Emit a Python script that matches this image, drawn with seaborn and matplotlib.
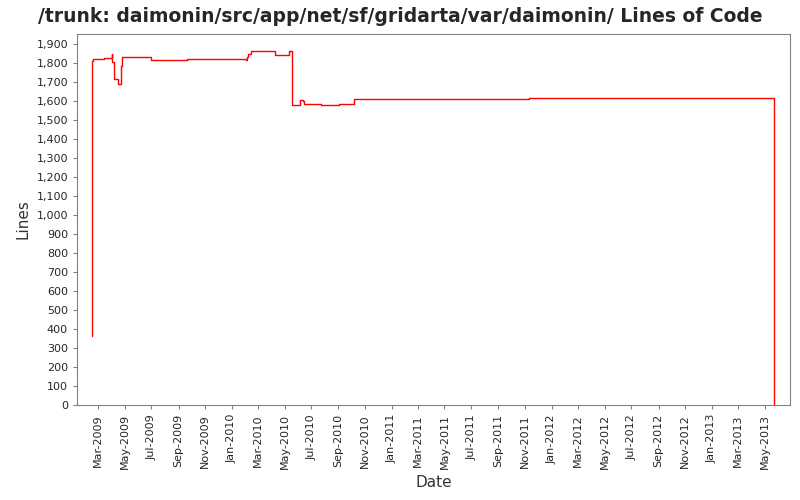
import matplotlib
matplotlib.use("Agg")
import matplotlib.pyplot as plt
import matplotlib.dates as mdates
import matplotlib.ticker as mticker
import seaborn as sns
import pandas as pd

dates = ["2009-02-15","2009-02-15","2009-02-18","2009-03-02","2009-03-15","2009-04-01","2009-04-02",
         "2009-04-07","2009-04-16","2009-04-22","2009-04-25","2009-07-01","2009-09-21",
         "2009-11-06","2010-02-03","2010-02-04","2010-02-07","2010-02-14","2010-04-10",
         "2010-05-10","2010-05-19","2010-06-06","2010-06-11","2010-06-15","2010-07-24",
         "2010-09-03","2010-10-07","2011-11-09","2013-05-22"]
lines = [365,1812,1819,1824,1828,1846,1804,1714,1690,1784,1830,1814,1824,1819,1816,1830,
         1846,1862,1840,1862,1577,1603,1598,1584,1577,1584,1609,1614,0]

df = pd.DataFrame({"Date": pd.to_datetime(dates), "Lines": lines})

sns.set_style("white")
plt.rcParams['font.family'] = ['DejaVu Sans']
fig = plt.figure(figsize=(8, 5), dpi=100)
ax = fig.add_axes([77/800, 1-405/500, (790-77)/800, (405-34)/500])
ax.step(df["Date"], df["Lines"], where="post", color="red", lw=1)
ax.set_xlim(pd.Timestamp("2009-01-12"), pd.Timestamp("2013-06-28"))
ax.set_ylim(0, 1953)
ax.yaxis.set_major_locator(mticker.MultipleLocator(100))
ax.yaxis.set_major_formatter(mticker.FuncFormatter(lambda v, p: f"{int(v):,}"))
ax.xaxis.set_major_locator(mdates.MonthLocator(bymonth=[1,3,5,7,9,11]))
ax.xaxis.set_major_formatter(mdates.DateFormatter("%b-%Y"))
for lab in ax.get_xticklabels():
    lab.set_rotation(90)
ax.tick_params(labelsize=8, length=3, color="gray", direction="out", bottom=True, left=True)
for s in ax.spines.values():
    s.set_color("gray")
ax.set_xlabel("Date", fontsize=11, color="#333333")
ax.set_ylabel("Lines", fontsize=11, color="#333333")
fig.suptitle("/trunk: daimonin/src/app/net/sf/gridarta/var/daimonin/ Lines of Code",
             fontsize=13.5, fontweight="bold", x=0.5, y=0.985)
fig.savefig("out.png", dpi=100)
